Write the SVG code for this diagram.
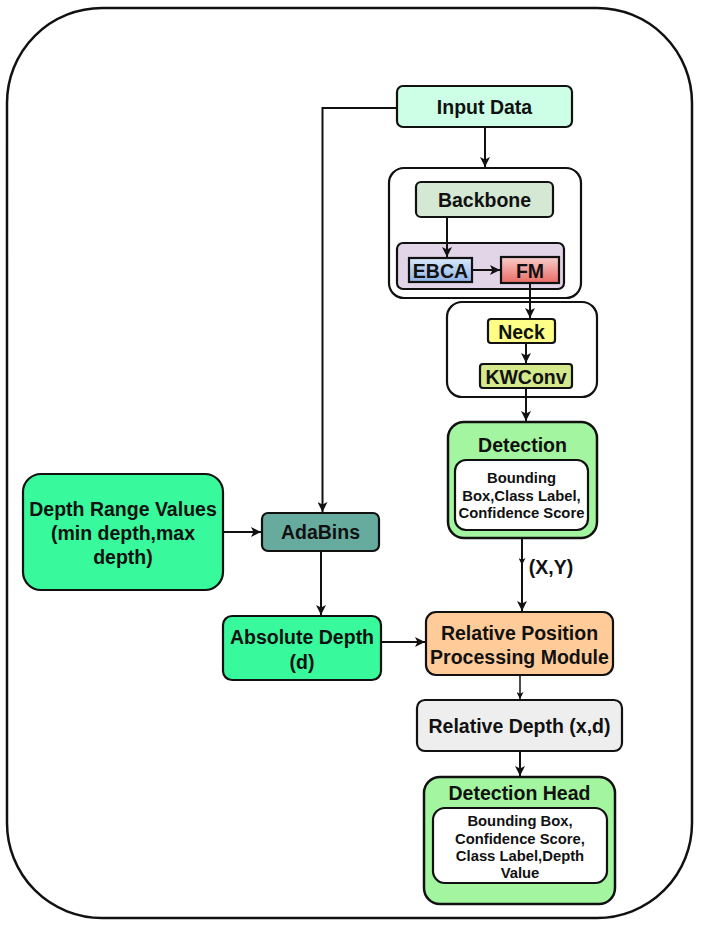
<svg xmlns="http://www.w3.org/2000/svg" width="702" height="930" viewBox="0 0 702 930">
<defs>
<style>
text{font-family:"Liberation Sans",Arial,sans-serif;font-weight:bold;fill:#111;text-anchor:middle;dominant-baseline:central}
.t{font-size:19.5px}
.s{font-size:14.8px}
.b{stroke:#111;stroke-width:2.2}
.c{fill:none;stroke:#111;stroke-width:2}
</style>
<linearGradient id="gBlue" x1="0" y1="0" x2="0" y2="1"><stop offset="0" stop-color="#dae8fc"/><stop offset="1" stop-color="#8fb3e6"/></linearGradient>
<linearGradient id="gRed" x1="0" y1="0" x2="0" y2="1"><stop offset="0" stop-color="#f8cecc"/><stop offset="1" stop-color="#ea6b66"/></linearGradient>
<marker id="ah" viewBox="0 0 10 10" refX="10" refY="5" markerWidth="10" markerHeight="10" markerUnits="userSpaceOnUse" orient="auto"><path d="M0,0 L10,5 L0,10 L2.5,5 Z" fill="#111"/></marker>
<marker id="ahs" viewBox="0 0 10 10" refX="10" refY="5" markerWidth="7" markerHeight="7" markerUnits="userSpaceOnUse" orient="auto"><path d="M0,0 L10,5 L0,10 L2.5,5 Z" fill="#111"/></marker>
</defs>
<rect x="0" y="0" width="702" height="930" fill="#ffffff"/>
<rect x="7" y="8" width="685" height="910" rx="95" ry="95" fill="none" stroke="#111" stroke-width="2.5"/>

<g id="containers">
<rect x="389" y="168" width="192" height="130" rx="15" fill="#ffffff" class="b"/>
<rect x="447" y="302" width="150" height="95" rx="15" fill="#ffffff" class="b"/>
</g>

<g id="input-data"><rect x="397" y="86" width="175" height="41" rx="6" fill="#ccffe6" class="b"/><text class="t" x="484.5" y="107">Input Data</text></g>
<g id="backbone"><rect x="416" y="182" width="137" height="35" rx="5" fill="#d5e8d4" class="b"/><text class="t" x="484.5" y="200">Backbone</text></g>
<g id="attn-group"><rect x="397" y="243" width="167" height="46" rx="6" fill="#e1d5e7" class="b"/></g>
<g id="ebca"><rect x="409" y="258" width="63" height="24" fill="url(#gBlue)" class="b"/><text class="t" x="440.5" y="270.5">EBCA</text></g>
<g id="fm"><rect x="501" y="257" width="58" height="26" fill="url(#gRed)" class="b"/><text class="t" x="530" y="270.5">FM</text></g>
<g id="neck"><rect x="488" y="319" width="67" height="24" rx="3" fill="#ffff88" class="b"/><text class="t" x="521.5" y="331.5">Neck</text></g>
<g id="kwconv"><rect x="480" y="364" width="92" height="24" rx="3" fill="#d4e88c" class="b"/><text class="t" x="526" y="376.5">KWConv</text></g>
<g id="detection"><rect x="448" y="422" width="149" height="116" rx="16" fill="#a3f5a0" stroke="#111" stroke-width="2.5"/><text class="t" x="522.5" y="445">Detection</text>
<rect x="455" y="460" width="133" height="70" rx="11" fill="#ffffff" class="b"/>
<text class="s" x="521.5" y="478">Bounding</text><text class="s" x="521.5" y="496">Box,Class Label,</text><text class="s" x="521.5" y="513">Confidence Score</text></g>
<g id="depth-range"><rect x="23" y="474" width="200" height="116" rx="18" fill="#38fa9c" class="b"/><text class="t" x="123" y="509">Depth Range Values</text><text class="t" x="123" y="533">(min depth,max</text><text class="t" x="123" y="557">depth)</text></g>
<g id="adabins"><rect x="262" y="513" width="117" height="38" rx="6" fill="#67ab9f" class="b"/><text class="t" x="320.5" y="532">AdaBins</text></g>
<g id="absolute-depth"><rect x="223" y="616" width="158" height="64" rx="9" fill="#38fa9c" class="b"/><text class="t" x="302" y="637">Absolute Depth</text><text class="t" x="302" y="662">(d)</text></g>
<g id="rppm"><rect x="426" y="612" width="187" height="63" rx="10" fill="#ffcc99" class="b"/><text class="t" x="519.5" y="633">Relative Position</text><text class="t" x="519.5" y="657">Processing Module</text></g>
<g id="relative-depth"><rect x="417" y="700" width="205" height="51" rx="8" fill="#eeeeee" class="b"/><text class="t" x="519.5" y="726">Relative Depth (x,d)</text></g>
<g id="detection-head"><rect x="424" y="777" width="191" height="127" rx="16" fill="#a3f5a0" stroke="#111" stroke-width="2.5"/><text class="t" x="519.5" y="793">Detection Head</text>
<rect x="433" y="808" width="174" height="75" rx="12" fill="#ffffff" class="b"/>
<text class="s" x="520" y="821">Bounding Box,</text><text class="s" x="520" y="839">Confidence Score,</text><text class="s" x="520" y="856">Class Label,Depth</text><text class="s" x="520" y="873">Value</text></g>

<g id="connectors">
<path class="c" d="M397,108 H322.5 V512" marker-end="url(#ah)"/>
<path class="c" d="M485,127 V167" marker-end="url(#ah)"/>
<path class="c" d="M447,217 V257" marker-end="url(#ah)"/>
<path class="c" d="M472,270 H500" marker-end="url(#ah)"/>
<path class="c" d="M530,283 V318" marker-end="url(#ah)"/>
<path class="c" d="M526,343 V363" marker-end="url(#ah)"/>
<path class="c" d="M526,388 V421" marker-end="url(#ah)"/>
<path class="c" d="M522,538 V565" marker-end="url(#ahs)"/>
<path class="c" d="M522,563 V611" marker-end="url(#ah)"/>
<text class="t" x="551" y="567">(X,Y)</text>
<path class="c" d="M223,532 H261" marker-end="url(#ah)"/>
<path class="c" d="M321,551 V615" marker-end="url(#ah)"/>
<path class="c" d="M381,642 H425" marker-end="url(#ah)"/>
<path fill="none" stroke="#111" stroke-width="1.5" d="M520,675 V699" marker-end="url(#ahs)"/>
<path class="c" d="M520,751 V776" marker-end="url(#ah)"/>
</g>
</svg>
